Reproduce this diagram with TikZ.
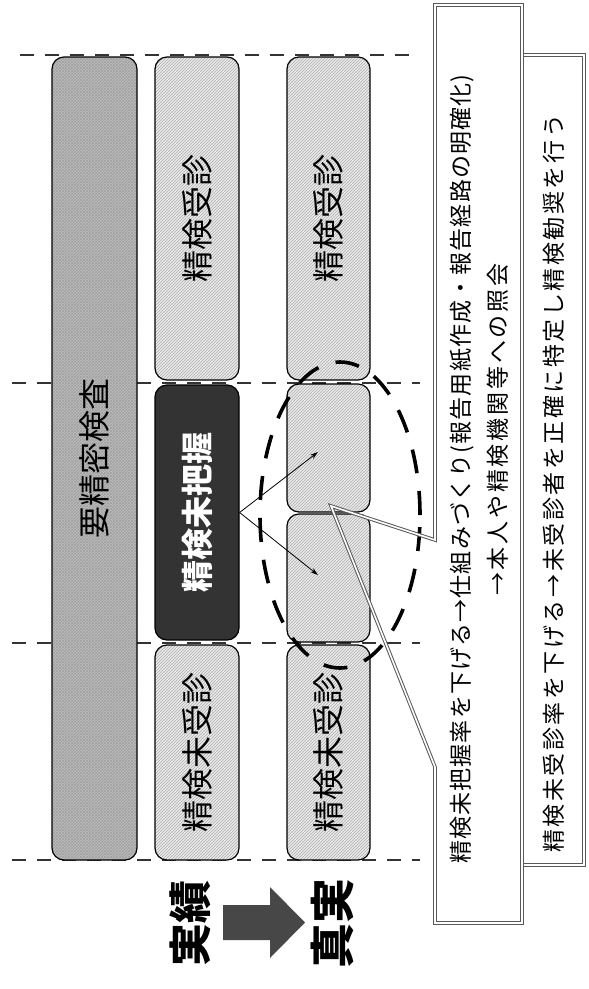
\documentclass[tikz,border=0pt]{standalone}
\usepackage{fontspec}
\usepackage{graphicx}
\usetikzlibrary{patterns,shapes.geometric,arrows.meta}
\newfontfamily\jp{Noto Sans CJK JP}
\tikzset{
  base/.style={draw=black, line width=1.2pt, rounded corners=12pt, inner sep=0pt,
    font=\jp\fontsize{32}{32}\selectfont},
  crossbox/.style={base, preaction={fill=gray!50}, pattern=crosshatch, pattern color=gray!75},
  hatchbox/.style={base, preaction={fill=gray!16}, pattern=north east lines, pattern color=gray!66},
  darkbox/.style={base, fill=black!80, text=white, font=\jp\bfseries\fontsize{32}{32}\selectfont},
  sepline/.style={dash pattern=on 14pt off 11pt, line width=2pt, draw=black!80},
  pointer/.style={-{Stealth[length=8pt,width=5pt]}, line width=0.8pt},
  ovalline/.style={ellipse, draw=black, inner sep=0pt, line width=3.6pt, dash pattern=on 24pt off 18pt},
  callout/.style={draw=black!65, double=white, double distance=1.6pt, line width=1pt},
  note/.style={rotate=90, anchor=west, inner sep=0pt, font=\jp\fontsize{23}{24}\selectfont},
  big/.style={rotate=90, inner sep=0pt, font=\jp\bfseries\fontsize{43}{43}\selectfont},
}
\begin{document}
\begin{tikzpicture}[x=1pt,y=-1pt]
\useasboundingbox (0,0) rectangle (589,989);
% dashed separators
\coordinate (s1a) at (20,55);  \coordinate (s1b) at (420,55);
\coordinate (s2a) at (12,383); \coordinate (s2b) at (420,383);
\coordinate (s3a) at (12,643); \coordinate (s3b) at (420,643);
\coordinate (s4a) at (12,860); \coordinate (s4b) at (420,860);
\draw[sepline] (s1a) -- (s1b);
\draw[sepline] (s2a) -- (s2b);
\draw[sepline] (s3a) -- (s3b);
\draw[sepline] (s4a) -- (s4b);
% column 1
\node[crossbox, minimum width=85pt, minimum height=803pt] (c1) at (94.5,458.5) {\rotatebox{90}{要精密検査}};
% column 2
\node[hatchbox, minimum width=84pt, minimum height=323pt] (c2a) at (197,218.5) {\rotatebox{90}{精検受診}};
\node[darkbox, minimum width=84pt, minimum height=255pt] (c2b) at (197,512.5) {\rotatebox{90}{精検未把握}};
\node[hatchbox, minimum width=84pt, minimum height=215pt] (c2c) at (197,752.5) {\rotatebox{90}{精検未受診}};
% column 3
\node[hatchbox, minimum width=83pt, minimum height=323pt] (c3a) at (328.5,218.5) {\rotatebox{90}{精検受診}};
\node[hatchbox, minimum width=83pt, minimum height=128pt] (c3b) at (328.5,448) {};
\node[hatchbox, minimum width=83pt, minimum height=128pt] (c3c) at (328.5,578) {};
\node[hatchbox, minimum width=83pt, minimum height=215pt] (c3d) at (328.5,752.5) {\rotatebox{90}{精検未受診}};
% arrows
\coordinate (p1) at (318,452);
\coordinate (p2) at (318,575);
\draw[pointer] (c2b.east) -- (p1);
\draw[pointer] (c2b.east) -- (p2);
% dashed oval
\node[ovalline, minimum width=160pt, minimum height=306pt] (oval) at (340,515) {};
% second note box
\node[callout, rectangle, inner sep=0pt, minimum width=62pt, minimum height=810pt] (box2) at (553,460) {};
% first note box with pointer
\coordinate (k1) at (435,5);   \coordinate (k2) at (522,5);
\coordinate (k3) at (522,923); \coordinate (k4) at (435,923);
\coordinate (k5) at (435,767); \coordinate (tip) at (331,506);
\coordinate (k6) at (435,540);
\draw[callout] (k1) -- (k2) -- (k3) -- (k4) -- (k5) -- (tip) -- (k6) -- cycle;
\node[note] (t1) at (462,864) {\addfontfeature{LetterSpace=5}精検未把握率を下げる→仕組みづくり(報告用紙作成・報告経路の明確化)};
\node[note] (t2) at (498,596) {\addfontfeature{LetterSpace=12}→本人や精検機関等への照会};
\node[note] (t3) at (554,853) {\addfontfeature{LetterSpace=11}精検未受診率を下げる→未受診者を正確に特定し精検勧奨を行う};
% bottom labels
\node[big] (r1) at (190,923) {実績};
\node[big, font=\jp\bfseries\fontsize{45}{45}\selectfont] (r2) at (332,923) {真実};
\fill[black!72] (223,905) -- (270,905) -- (270,887) -- (305,922.5) -- (270,958) -- (270,940) -- (223,940) -- cycle;
\end{tikzpicture}
\end{document}
